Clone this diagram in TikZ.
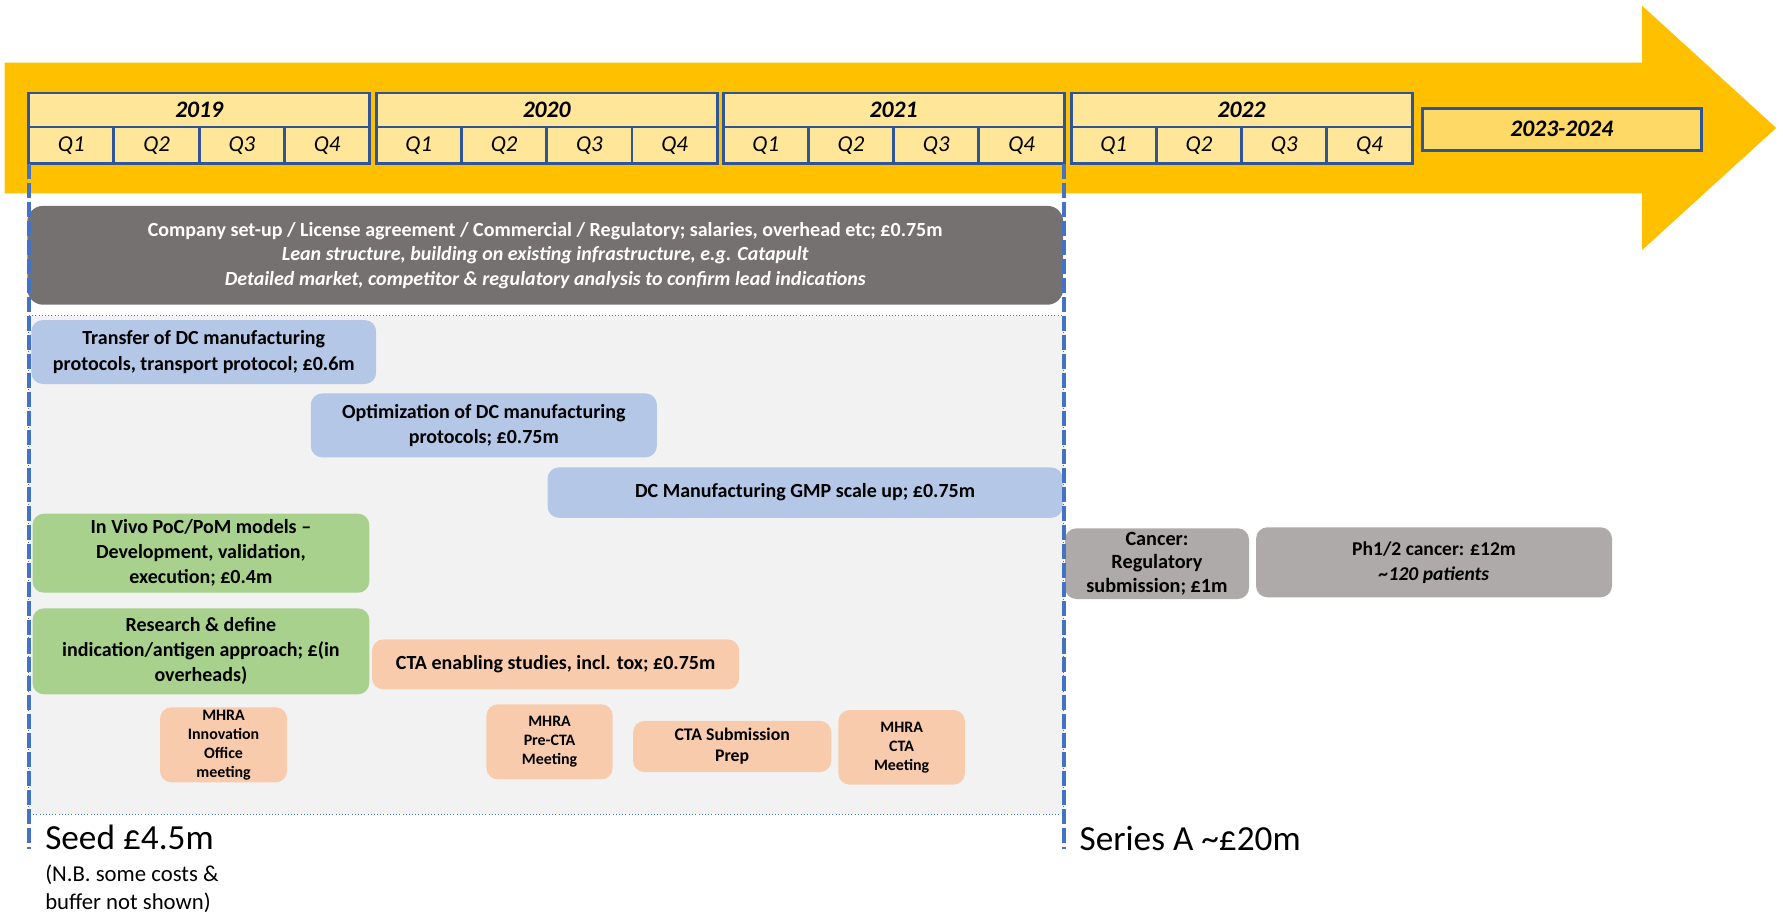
\documentclass[tikz,border=0pt]{standalone}
\usepackage{fontspec}
\setmainfont{Carlito}
\definecolor{arrowc}{HTML}{FFC000}
\definecolor{yearfill}{HTML}{FFE699}
\definecolor{yearfilltwo}{HTML}{FFD966}
\definecolor{yearline}{HTML}{2F5597}
\definecolor{dashc}{HTML}{4472C4}
\definecolor{areafill}{HTML}{F2F2F2}
\definecolor{cgray}{HTML}{767171}
\definecolor{bluefill}{HTML}{B4C7E7}
\definecolor{greenfill}{HTML}{A9D18E}
\definecolor{orangefill}{HTML}{F8CBAD}
\definecolor{clgray}{HTML}{AEAAAA}
\begin{document}
\begin{tikzpicture}[x=0.5pt,y=-0.5pt,
  yearbox/.style={draw=yearline, line width=1.3pt, fill=yearfill, inner sep=0pt,
    font=\bfseries\itshape\fontsize{10.4}{12}\selectfont},
  qbox/.style={draw=yearline, line width=1.3pt, fill=yearfill, inner sep=0pt,
    font=\itshape\fontsize{10}{12}\selectfont},
  box/.style={rounded corners=5pt, inner sep=1pt, align=center, text=black,
    font=\bfseries\fontsize{8.8}{11}\selectfont},
  smallbox/.style={box, font=\bfseries\fontsize{7}{8.35}\selectfont},
  label/.style={inner sep=0pt, anchor=base west, text=black},
  sepline/.style={draw=dashc, line width=1.7pt, dash pattern=on 6.6pt off 1.75pt}
]
\useasboundingbox (0,0) rectangle (1568,806);

% big timeline arrow
\fill[arrowc] (4,55) -- (1444,55) -- (1444,5) -- (1562,112.5) -- (1444,220) -- (1444,170) -- (4,170) -- cycle;

% years and quarters
\foreach \yr/\x in {2019/25.2, 2020/330.8, 2021/635.9, 2022/941.9} {
  \node[yearbox, minimum width=150pt, minimum height=14.95pt, anchor=north west, outer sep=0pt] (y\yr) at (\x,81.8) {\yr};
  \foreach \q in {1,...,4} {
    \node[qbox, minimum width=37.5pt, minimum height=16.15pt, anchor=north west, outer sep=0pt] (q\yr-\q) at ({\x+(\q-1)*75},111.7) {Q\q};
  }
}
\node[yearbox, fill=yearfilltwo, minimum width=122.5pt, minimum height=18.35pt] (y2023) at (1373.5,113.65) {2023-2024};

% seed area background
\draw[draw=dashc, densely dotted, line width=0.4pt, fill=areafill] (25.2,277.6) rectangle (935.6,716);

% company box
\node[box, fill=cgray, text=white, rounded corners=7pt, minimum width=455.5pt, minimum height=43.5pt,
  font=\bfseries\fontsize{8.8}{10.75}\selectfont] (company) at (479.5,224.5)
  {Company set-up / License agreement / Commercial / Regulatory; salaries, overhead etc; £0.75m\\
   {\itshape Lean structure, building on existing infrastructure, e.g. Catapult}\\
   {\itshape Detailed market, competitor \& regulatory analysis to confirm lead indications}};

% blue boxes
\node[box, fill=bluefill, minimum width=151.6pt, minimum height=28.1pt] (transfer) at (179.2,309.6)
  {Transfer of DC manufacturing\\protocols, transport protocol; £0.6m};
\node[box, fill=bluefill, minimum width=152.2pt, minimum height=28.1pt] (optim) at (425.5,374.1)
  {Optimization of DC manufacturing\\protocols; £0.75m};
\node[box, fill=bluefill, minimum width=226.5pt, minimum height=22.15pt] (gmp) at (708,433.2)
  {DC Manufacturing GMP scale up; £0.75m};

% green boxes
\node[box, fill=greenfill, minimum width=148.1pt, minimum height=34.75pt] (invivo) at (176.7,486.5)
  {In Vivo PoC/PoM models –\\Development, validation,\\execution; £0.4m};
\node[box, fill=greenfill, minimum width=148.1pt, minimum height=37.8pt] (research) at (176.7,572.8)
  {Research \& define\\indication/antigen approach; £(in\\overheads)};

% orange boxes
\node[box, fill=orangefill, minimum width=161.45pt, minimum height=21.95pt] (ctaenab) at (488.6,584.3)
  {CTA enabling studies, incl. tox; £0.75m};
\node[smallbox, fill=orangefill, minimum width=55.85pt, minimum height=33pt] (mhrainno) at (196.6,655)
  {MHRA\\Innovation\\Office\\meeting};
\node[smallbox, fill=orangefill, minimum width=55.5pt, minimum height=33pt] (mhrapre) at (483.3,652.4)
  {MHRA\\Pre-CTA\\Meeting};
\node[box, fill=orangefill, minimum width=87.15pt, minimum height=22.5pt,
  font=\bfseries\fontsize{7.8}{9.3}\selectfont] (ctasub) at (643.9,656.5)
  {CTA Submission\\Prep};
\node[smallbox, fill=orangefill, minimum width=55.65pt, minimum height=32.8pt] (mhracta) at (792.9,657.2)
  {MHRA\\CTA\\Meeting};

% series A boxes
\node[box, fill=clgray, minimum width=80.9pt, minimum height=31.1pt,
  font=\bfseries\fontsize{8.9}{10.3}\selectfont] (cancer) at (1017.5,495.7)
  {Cancer:\\Regulatory\\submission; £1m};
\node[box, fill=clgray, minimum width=156.5pt, minimum height=30.8pt,
  font=\bfseries\fontsize{8.6}{11}\selectfont] (ph12) at (1261.1,494.5)
  {Ph1/2 cancer: £12m\\{\itshape \textasciitilde120 patients}};

% funding separators
\coordinate (seedtop) at (25.2,144);
\coordinate (seedbot) at (25.2,746.5);
\coordinate (sertop) at (935.6,144);
\coordinate (serbot) at (935.6,746.5);
\draw[sepline] (seedtop) -- (seedbot);
\draw[sepline] (sertop) -- (serbot);

% funding labels
\node[label, font=\fontsize{15.5}{18}\selectfont] (seed) at (39.4,747.5) {Seed £4.5m};
\node[label, font=\fontsize{10}{12.5}\selectfont] (nbone) at (39.4,775) {(N.B. some costs \&};
\node[label, font=\fontsize{10}{12.5}\selectfont] (nbtwo) at (39.4,800) {buffer not shown)};
\node[label, font=\fontsize{15.5}{18}\selectfont] (seriesa) at (949,748) {Series A \textasciitilde£20m};
\end{tikzpicture}
\end{document}
